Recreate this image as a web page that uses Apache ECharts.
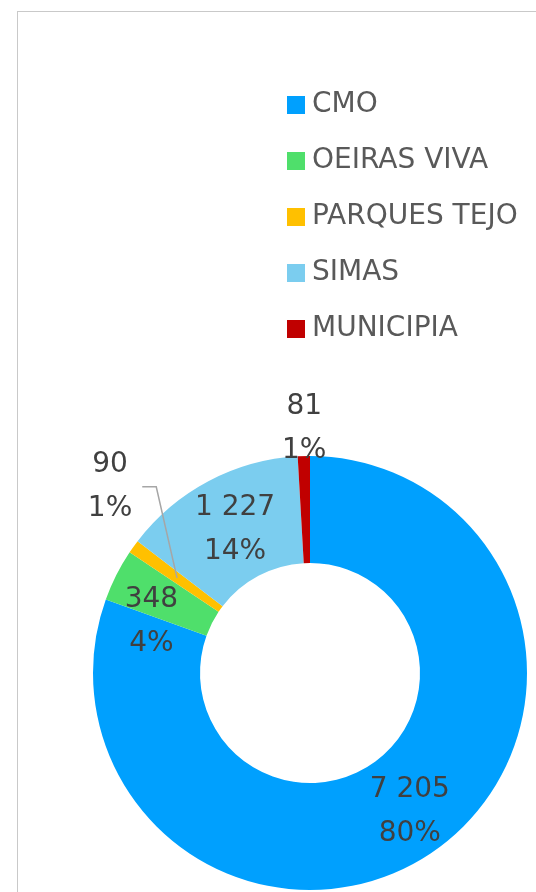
<!DOCTYPE html>
<html>
<head>
<meta charset="utf-8">
<script src="https://cdn.jsdelivr.net/npm/echarts@6/dist/echarts.min.js"></script>
<style>
	html, body { margin: 0; padding: 0; background: #fff; overflow: hidden; }
	#frame { position: absolute; left: 17px; top: 11px; width: 700px; height: 1000px; border: 1px solid #c9c9c9; }
	#main { position: absolute; left: 0; top: 0; width: 536px; height: 892px; }
</style>
</head>
<body>
<div id="frame"></div>
<div id="main"></div>
<script>
	// dados
	const entidades = ['CMO', 'OEIRAS VIVA', 'PARQUES TEJO', 'SIMAS', 'MUNICIPIA'];
	const valores = [7205, 348, 90, 1227, 81];
	const cores = ['#00A0FE', '#4FDF6B', '#FFC000', '#7BCDEF', '#C00000'];

	// ajustes de rotulos (Excel coloca-os a mao)
	const rotuloOffset = [[4, 3], [-10, 24], [0, 0], [3, 4], [-1, -78]];
	const comGuia = 2; // PARQUES TEJO: rotulo fora com linha guia

	const fonte = '"DejaVu Sans", sans-serif';
	const centro = [310, 673];
	const raios = [110, 217];

	function fmtNum(v) {
		return String(v).replace(/\B(?=(\d{3})+(?!\d))/g, ' ');
	}

	// ponto a meio do anel para a fatia i
	function meioAnel(i) {
		let total = valores.reduce((a, b) => a + b, 0);
		let antes = 0;
		for (let k = 0; k < i; k++) antes += valores[k];
		let frac = (antes + valores[i] / 2) / total;
		let ang = (90 - frac * 360) * Math.PI / 180;
		let r = (raios[0] + raios[1]) / 2;
		return [centro[0] + r * Math.cos(ang), centro[1] - r * Math.sin(ang)];
	}

	const estiloRotulo = {
		fontFamily: fonte,
		fontSize: 28,
		lineHeight: 44,
		color: '#404040',
		formatter: function (p) {
			return fmtNum(p.value) + '\n' + Math.round(p.percent) + '%';
		}
	};

	let dados = entidades.map(function (nome, i) {
		return {
			name: nome,
			value: valores[i],
			itemStyle: { color: cores[i] },
			label: { show: i !== comGuia, offset: rotuloOffset[i] }
		};
	});

	// serie por cima (transparente) so para o rotulo com linha guia
	let dadosGuia = entidades.map(function (nome, i) {
		return {
			name: nome,
			value: valores[i],
			label: { show: i === comGuia },
			labelLine: { show: i === comGuia }
		};
	});

	let myChart = echarts.init(document.getElementById('main'), null, { renderer: 'canvas' });

	let option = {
		animation: false,
		legend: {
			orient: 'vertical',
			left: 282,
			top: 86,
			itemWidth: 18,
			itemHeight: 18,
			itemGap: 28,
			icon: 'rect',
			textStyle: {
				fontFamily: fonte,
				fontSize: 28,
				color: '#595959',
				padding: [0, 0, 0, 2]
			},
			data: entidades
		},
		series: [{
			type: 'pie',
			center: centro,
			radius: raios,
			startAngle: 90,
			clockwise: true,
			avoidLabelOverlap: false,
			label: Object.assign({ show: true, position: 'inside' }, estiloRotulo),
			labelLine: { show: false },
			emphasis: { disabled: true },
			data: dados
		}, {
			type: 'pie',
			z: 5,
			silent: true,
			legendHoverLink: false,
			center: centro,
			radius: raios,
			startAngle: 90,
			clockwise: true,
			avoidLabelOverlap: false,
			itemStyle: { color: 'rgba(0,0,0,0)' },
			label: Object.assign({ position: 'outside' }, estiloRotulo),
			labelLine: {
				showAbove: true,
				lineStyle: { color: '#a6a6a6', width: 1.5 }
			},
			labelLayout: function (params) {
				if (params.dataIndex !== comGuia) return {};
				// rotulo acima-esquerda da fatia, linha guia ate ao meio do anel
				let m = meioAnel(comGuia);
				let lx = m[0] - 67;
				let ly = m[1] - 91;
				let lr = params.labelRect;
				let edge = lx + lr.width / 2 + 10;
				return {
					x: lx,
					y: ly,
					align: 'center',
					verticalAlign: 'middle',
					labelLinePoints: [[m[0], m[1]], [edge + 14, ly], [edge, ly]]
				};
			},
			emphasis: { disabled: true },
			data: dadosGuia
		}]
	};

	myChart.setOption(option);
</script>
</body>
</html>
